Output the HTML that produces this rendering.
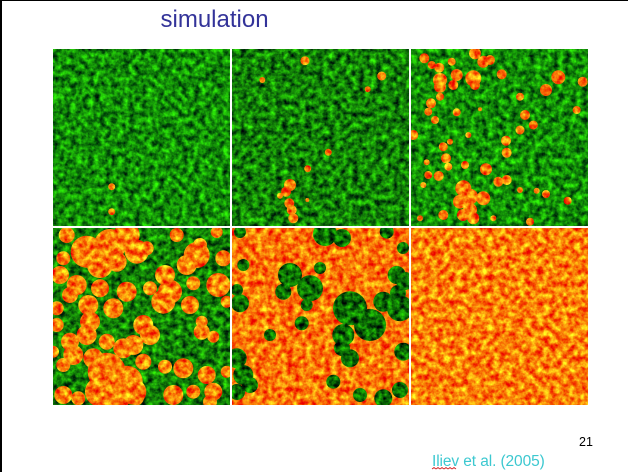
<!DOCTYPE html>
<html><head><meta charset="utf-8"><style>
html,body{margin:0;padding:0;background:#fff;}
svg{display:block;}
</style></head><body>
<svg width="628" height="472" viewBox="0 0 628 472" xmlns="http://www.w3.org/2000/svg">
<defs>
<filter id="fg1" filterUnits="userSpaceOnUse" x="0" y="0" width="628" height="472" color-interpolation-filters="sRGB">
 <feTurbulence type="fractalNoise" baseFrequency="0.17" numOctaves="3" seed="3" result="n"/>
 <feColorMatrix in="n" type="matrix" values="0.35 0 0 0 -0.1  1.3 0 0 0 -0.1  0 0 0 0 0.03  0 0 0 0 1" result="c"/>
 <feComposite in="c" in2="SourceGraphic" operator="in"/>
</filter>
<filter id="fg2" filterUnits="userSpaceOnUse" x="0" y="0" width="628" height="472" color-interpolation-filters="sRGB">
 <feTurbulence type="fractalNoise" baseFrequency="0.17" numOctaves="3" seed="11" result="n"/>
 <feColorMatrix in="n" type="matrix" values="0.35 0 0 0 -0.1  1.3 0 0 0 -0.15  0 0 0 0 0.03  0 0 0 0 1" result="c"/>
 <feComposite in="c" in2="SourceGraphic" operator="in"/>
</filter>
<filter id="fg3" filterUnits="userSpaceOnUse" x="0" y="0" width="628" height="472" color-interpolation-filters="sRGB">
 <feTurbulence type="fractalNoise" baseFrequency="0.17" numOctaves="3" seed="23" result="n"/>
 <feColorMatrix in="n" type="matrix" values="0.3 0 0 0 -0.1  1.3 0 0 0 -0.22  0 0 0 0 0.02  0 0 0 0 1" result="c"/>
 <feComposite in="c" in2="SourceGraphic" operator="in"/>
</filter>
<filter id="fo1" filterUnits="userSpaceOnUse" x="0" y="0" width="628" height="472" color-interpolation-filters="sRGB">
 <feTurbulence type="fractalNoise" baseFrequency="0.16" numOctaves="3" seed="7" result="n"/>
 <feColorMatrix in="n" type="matrix" values="0.15 0 0 0 0.9  1.6 0 0 0 -0.3  0.3 0 0 0 -0.12  0 0 0 0 1" result="c"/>
 <feComposite in="c" in2="SourceGraphic" operator="in"/>
</filter>
<filter id="fo2" filterUnits="userSpaceOnUse" x="0" y="0" width="628" height="472" color-interpolation-filters="sRGB">
 <feTurbulence type="fractalNoise" baseFrequency="0.16" numOctaves="3" seed="19" result="n"/>
 <feColorMatrix in="n" type="matrix" values="0.15 0 0 0 0.9  1.6 0 0 0 -0.34  0.3 0 0 0 -0.12  0 0 0 0 1" result="c"/>
 <feComposite in="c" in2="SourceGraphic" operator="in"/>
</filter>
</defs>

<rect x="0" y="0" width="628" height="472" fill="#fff"/>
<rect x="0" y="0" width="628" height="1" fill="#000"/>
<rect x="0" y="0" width="2" height="472" fill="#000"/>

<text x="160.5" y="27" font-family="Liberation Sans, Arial, sans-serif" font-size="24" fill="#333399">simulation</text>

<svg x="53" y="49" width="177" height="177" viewBox="53 49 177 177">
 <rect x="53" y="49" width="177" height="177" fill="#1f8f1f" filter="url(#fg1)"/>
 <g fill="#f80" filter="url(#fo1)">
  <circle cx="111.7" cy="186.7" r="3.5"/>
  <circle cx="111.7" cy="211.7" r="3.5"/>
 </g>
</svg>

<svg x="232" y="49" width="177" height="177" viewBox="232 49 177 177">
 <rect x="232" y="49" width="177" height="177" fill="#1f8f1f" filter="url(#fg2)"/>
 <g fill="#f80" filter="url(#fo1)">
  <circle cx="305" cy="60.7" r="4.5"/>
  <circle cx="262.3" cy="80" r="3"/>
  <circle cx="381.7" cy="76" r="4.5"/>
  <circle cx="367.7" cy="89.3" r="3"/>
  <circle cx="328.3" cy="152.3" r="3.5"/>
  <circle cx="307.7" cy="168.7" r="3.5"/>
  <circle cx="290" cy="185" r="6"/>
  <circle cx="286" cy="191.7" r="5"/>
  <circle cx="280" cy="195.7" r="3"/>
  <circle cx="289.3" cy="203.3" r="5"/>
  <circle cx="291.7" cy="210" r="5"/>
  <circle cx="293.3" cy="218.3" r="5"/>
  <circle cx="307.3" cy="200" r="2"/>
 </g>
</svg>

<svg x="411" y="49" width="177" height="177" viewBox="411 49 177 177">
 <rect x="411" y="49" width="177" height="177" fill="#1f8f1f" filter="url(#fg1)"/>
 <g fill="#f80" filter="url(#fo2)">
  <circle cx="424.3" cy="58.3" r="5"/>
  <circle cx="431.7" cy="65" r="4"/>
  <circle cx="439.3" cy="67.7" r="5"/>
  <circle cx="451.7" cy="61.7" r="4"/>
  <circle cx="475" cy="53.3" r="6"/>
  <circle cx="483.3" cy="61.7" r="6"/>
  <circle cx="490" cy="60" r="5"/>
  <circle cx="440" cy="80" r="7"/>
  <circle cx="440" cy="86.7" r="6"/>
  <circle cx="453.3" cy="85" r="5"/>
  <circle cx="456.7" cy="75" r="6"/>
  <circle cx="473.3" cy="78.3" r="8"/>
  <circle cx="475" cy="85" r="5"/>
  <circle cx="501.7" cy="74.3" r="5"/>
  <circle cx="558.3" cy="77.3" r="7"/>
  <circle cx="582.7" cy="81.7" r="5"/>
  <circle cx="546" cy="90" r="6"/>
  <circle cx="520" cy="96.7" r="4"/>
  <circle cx="440" cy="96.7" r="4"/>
  <circle cx="431" cy="103.3" r="5"/>
  <circle cx="428.3" cy="111.7" r="4"/>
  <circle cx="435" cy="120" r="4"/>
  <circle cx="456.7" cy="112.3" r="4"/>
  <circle cx="480" cy="109.3" r="2"/>
  <circle cx="525" cy="115" r="5"/>
  <circle cx="520" cy="130" r="4.5"/>
  <circle cx="533.3" cy="125" r="4.5"/>
  <circle cx="576.7" cy="110" r="4"/>
  <circle cx="468.3" cy="135" r="3"/>
  <circle cx="413.3" cy="135" r="5"/>
  <circle cx="443.3" cy="146.7" r="4.5"/>
  <circle cx="450" cy="141.7" r="3"/>
  <circle cx="506" cy="140.7" r="5"/>
  <circle cx="506.7" cy="152.7" r="5"/>
  <circle cx="446" cy="158.3" r="5"/>
  <circle cx="448.3" cy="166.7" r="4"/>
  <circle cx="426.7" cy="162.3" r="3"/>
  <circle cx="465" cy="165" r="4"/>
  <circle cx="486" cy="169.3" r="6"/>
  <circle cx="428.3" cy="175" r="4"/>
  <circle cx="438.7" cy="176" r="5"/>
  <circle cx="423.3" cy="185" r="3"/>
  <circle cx="498.3" cy="181.7" r="5"/>
  <circle cx="506.7" cy="180" r="5"/>
  <circle cx="520" cy="190" r="3"/>
  <circle cx="536.7" cy="190.7" r="3"/>
  <circle cx="546" cy="194" r="4"/>
  <circle cx="567.7" cy="200.7" r="4"/>
  <circle cx="463.3" cy="188.3" r="8"/>
  <circle cx="470" cy="196.7" r="8"/>
  <circle cx="483.3" cy="198.3" r="7"/>
  <circle cx="460" cy="201.7" r="7"/>
  <circle cx="470" cy="210" r="7"/>
  <circle cx="473.3" cy="218.3" r="6"/>
  <circle cx="463" cy="215" r="6"/>
  <circle cx="443.3" cy="215" r="5"/>
  <circle cx="420" cy="218.3" r="3"/>
  <circle cx="493.3" cy="218.3" r="3"/>
  <circle cx="530" cy="221.7" r="4"/>
 </g>
</svg>

<svg x="53" y="228" width="177" height="177" viewBox="53 228 177 177">
 <rect x="53" y="228" width="177" height="177" fill="#1f8f1f" filter="url(#fg2)"/>
 <g fill="#f80" filter="url(#fo1)">
  <circle cx="66.7" cy="235" r="8"/>
  <circle cx="86.7" cy="251.7" r="16"/>
  <circle cx="110" cy="245" r="16"/>
  <circle cx="126.7" cy="235" r="13"/>
  <circle cx="136.7" cy="251.7" r="12"/>
  <circle cx="100" cy="265" r="13"/>
  <circle cx="116.7" cy="261.7" r="10"/>
  <circle cx="146.7" cy="248.3" r="7"/>
  <circle cx="60" cy="275" r="9"/>
  <circle cx="63.3" cy="258.3" r="7"/>
  <circle cx="76.7" cy="285" r="10"/>
  <circle cx="70" cy="295" r="8"/>
  <circle cx="100" cy="288.3" r="9"/>
  <circle cx="126.7" cy="291.7" r="10"/>
  <circle cx="113.3" cy="308.3" r="10"/>
  <circle cx="88.3" cy="305" r="10"/>
  <circle cx="90" cy="321.7" r="10"/>
  <circle cx="86.7" cy="335" r="10"/>
  <circle cx="56.7" cy="308.3" r="7"/>
  <circle cx="56.7" cy="325" r="7"/>
  <circle cx="70" cy="341.7" r="9"/>
  <circle cx="73.3" cy="355" r="10"/>
  <circle cx="63.3" cy="365" r="7"/>
  <circle cx="106.7" cy="341.7" r="8"/>
  <circle cx="196.7" cy="255" r="13"/>
  <circle cx="186.7" cy="265" r="10"/>
  <circle cx="223.3" cy="258.3" r="8"/>
  <circle cx="200" cy="245" r="7"/>
  <circle cx="176.7" cy="235" r="7"/>
  <circle cx="216.7" cy="232" r="6"/>
  <circle cx="165" cy="275" r="10"/>
  <circle cx="170" cy="291.7" r="12"/>
  <circle cx="163.3" cy="301.7" r="12"/>
  <circle cx="190" cy="305" r="9"/>
  <circle cx="150" cy="288.3" r="7"/>
  <circle cx="218.3" cy="285" r="12"/>
  <circle cx="193.3" cy="283.3" r="7"/>
  <circle cx="143.3" cy="325" r="10"/>
  <circle cx="150" cy="335" r="10"/>
  <circle cx="133.3" cy="345" r="10"/>
  <circle cx="123.3" cy="348.3" r="10"/>
  <circle cx="201.7" cy="331.7" r="8"/>
  <circle cx="201.7" cy="321.7" r="6"/>
  <circle cx="213.3" cy="336.7" r="6"/>
  <circle cx="106.7" cy="371.7" r="19"/>
  <circle cx="126.7" cy="381.7" r="16"/>
  <circle cx="100" cy="391.7" r="15"/>
  <circle cx="133.3" cy="391.7" r="13"/>
  <circle cx="116.7" cy="398.3" r="13"/>
  <circle cx="93.3" cy="358.3" r="10"/>
  <circle cx="143.3" cy="361.7" r="8"/>
  <circle cx="165" cy="366.7" r="7"/>
  <circle cx="183.3" cy="368.3" r="10"/>
  <circle cx="206.7" cy="375" r="9"/>
  <circle cx="173.3" cy="395" r="10"/>
  <circle cx="193.3" cy="391.7" r="7"/>
  <circle cx="213.3" cy="391.7" r="9"/>
  <circle cx="210" cy="402" r="7"/>
  <circle cx="63.3" cy="395" r="9"/>
  <circle cx="78.3" cy="398.3" r="7"/>
  <circle cx="136.7" cy="398.3" r="7"/>
  <circle cx="226.7" cy="371.7" r="6"/>
  <circle cx="53" cy="351.7" r="6"/>
  <circle cx="226.7" cy="301.7" r="6"/>
 </g>
</svg>

<svg x="232" y="228" width="177" height="177" viewBox="232 228 177 177">
 <rect x="232" y="228" width="177" height="177" fill="#f80" filter="url(#fo2)"/>
 <g fill="#1f8f1f" filter="url(#fg3)">
  <circle cx="240" cy="232" r="6"/>
  <circle cx="325" cy="234" r="12"/>
  <circle cx="342" cy="238" r="9"/>
  <circle cx="386.7" cy="231.7" r="7"/>
  <circle cx="290" cy="275" r="12"/>
  <circle cx="310" cy="288.3" r="13"/>
  <circle cx="283.3" cy="291.7" r="8"/>
  <circle cx="240" cy="303.3" r="9"/>
  <circle cx="237" cy="290" r="6"/>
  <circle cx="301.7" cy="323.3" r="7"/>
  <circle cx="270" cy="335" r="6"/>
  <circle cx="350" cy="308.3" r="17"/>
  <circle cx="370" cy="325" r="16"/>
  <circle cx="343.3" cy="335" r="11"/>
  <circle cx="400" cy="308.3" r="13"/>
  <circle cx="383.3" cy="301.7" r="10"/>
  <circle cx="398" cy="293" r="8"/>
  <circle cx="403.3" cy="351.7" r="9"/>
  <circle cx="350" cy="358.3" r="9"/>
  <circle cx="342" cy="348" r="8"/>
  <circle cx="396.7" cy="275" r="9"/>
  <circle cx="405" cy="281" r="9"/>
  <circle cx="236.7" cy="358.3" r="10"/>
  <circle cx="243.3" cy="375" r="10"/>
  <circle cx="250" cy="385" r="8"/>
  <circle cx="237" cy="392" r="8"/>
  <circle cx="333.3" cy="381.7" r="7"/>
  <circle cx="383.3" cy="398.3" r="9"/>
  <circle cx="400" cy="390" r="8"/>
  <circle cx="360" cy="395" r="7"/>
  <circle cx="243.3" cy="265" r="6"/>
  <circle cx="306.7" cy="305" r="6"/>
  <circle cx="403" cy="248" r="6"/>
  <circle cx="320" cy="268" r="6"/>
 </g>
</svg>

<svg x="411" y="228" width="177" height="177" viewBox="411 228 177 177">
 <rect x="411" y="228" width="177" height="177" fill="#f80" filter="url(#fo1)"/>
</svg>

<text x="579" y="446" font-family="Liberation Sans, Arial, sans-serif" font-size="12.5" fill="#000">21</text>
<text x="432" y="466" font-family="Liberation Sans, Arial, sans-serif" font-size="15.5" fill="#3cc8d0" letter-spacing="-0.1">Iliev et al. (2005)</text>
<path d="M432 469 l2 -1.5 l2 1.5 l2 -1.5 l2 1.5 l2 -1.5 l2 1.5 l2 -1.5 l2 1.5 l2 -1.5 l2 1.5 l2 -1.5 l2 1.5" fill="none" stroke="#d02020" stroke-width="0.8"/>
</svg>
</body></html>
